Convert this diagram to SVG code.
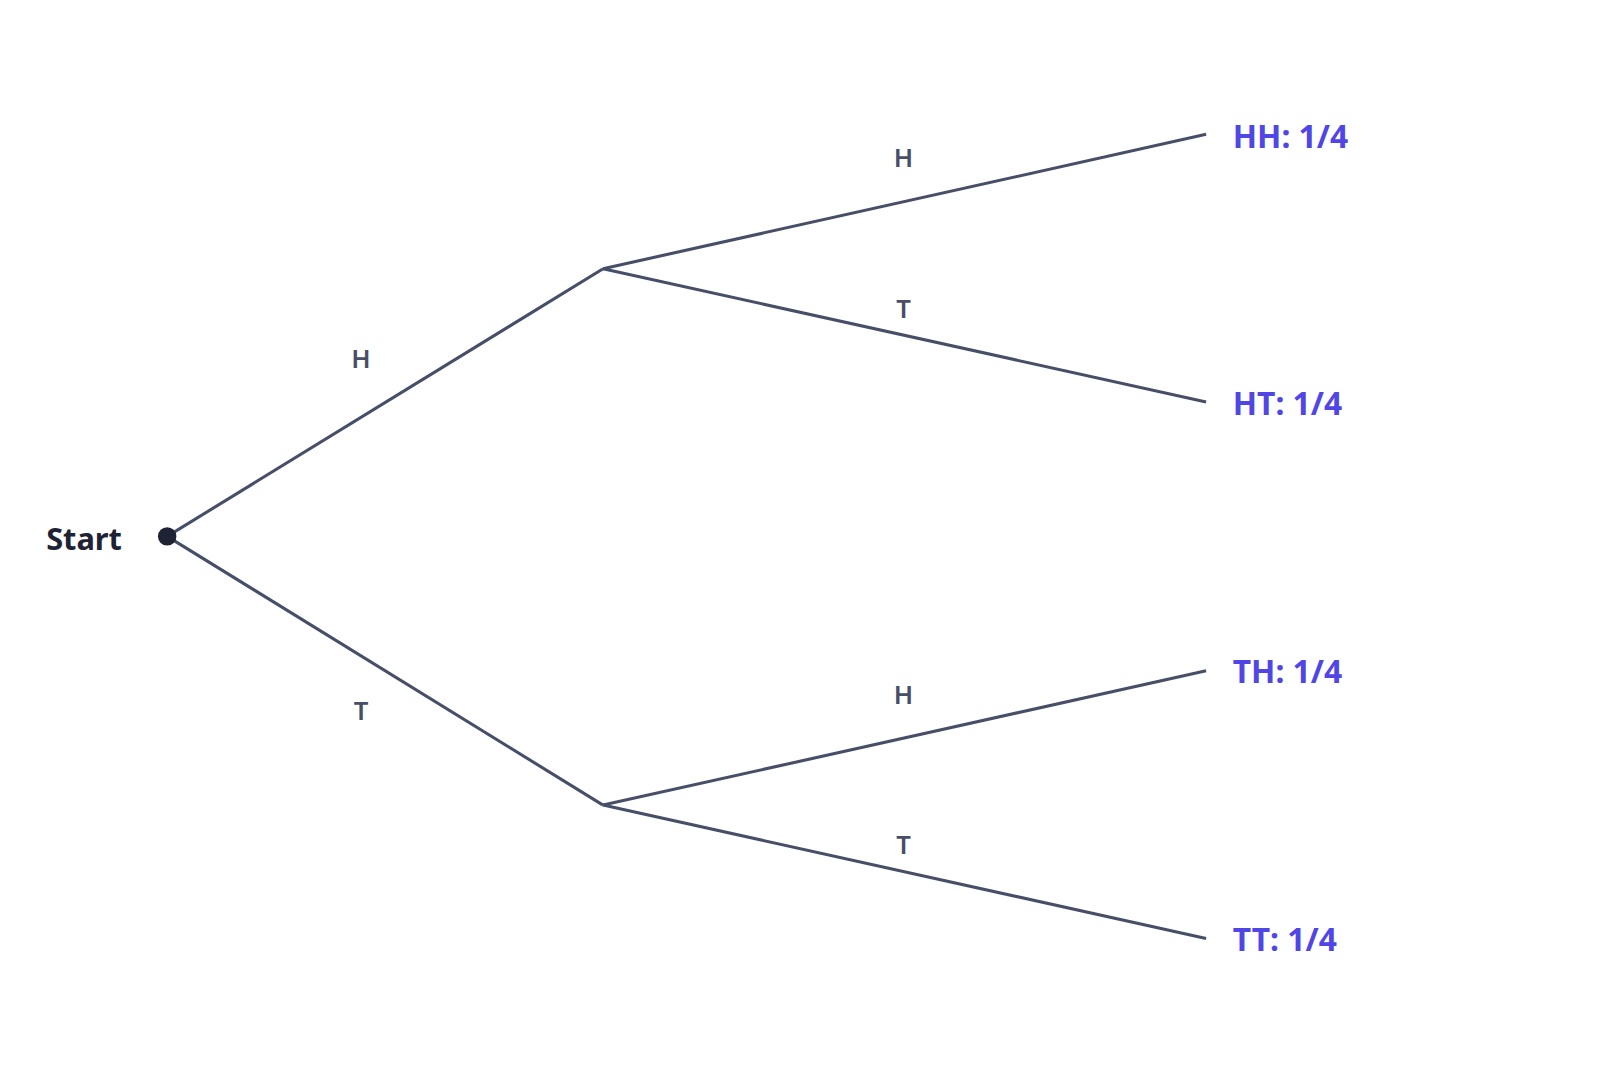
<svg xmlns="http://www.w3.org/2000/svg" width="1600" height="1067" viewBox="0 0 1600 1067">
<style>
.e{stroke:#474e68;stroke-width:3;fill:none}
.l{font-family:"Noto Sans",sans-serif;font-weight:600;font-size:25px;fill:#474e68;text-anchor:middle}
.o{font-family:"Noto Sans",sans-serif;font-weight:700;font-size:31px;fill:#4f46e5}
</style>
<rect width="1600" height="1067" fill="#fff"/>
<g transform="scale(1.0256)">
<g id="connectors">
<line class="e" x1="163" y1="523" x2="588" y2="262"/>
<line class="e" x1="163" y1="523" x2="588" y2="785"/>
<line class="e" x1="588" y1="262" x2="1176" y2="131"/>
<line class="e" x1="588" y1="262" x2="1176" y2="392"/>
<line class="e" x1="588" y1="785" x2="1176" y2="654"/>
<line class="e" x1="588" y1="785" x2="1176" y2="915"/>
<text class="l" x="352" y="359">H</text>
<text class="l" x="352" y="702">T</text>
<text class="l" x="881" y="163">H</text>
<text class="l" x="881" y="310">T</text>
<text class="l" x="881" y="686">H</text>
<text class="l" x="881" y="833">T</text>
</g>
<g id="start">
<circle cx="163" cy="523" r="9" fill="#1e2235"/>
<text x="45" y="536" font-family="Noto Sans,sans-serif" font-weight="700" font-size="30" fill="#1e2235">Start</text>
</g>
<g id="hh"><text class="o" x="1202" y="144">HH: 1/4</text></g>
<g id="ht"><text class="o" x="1202" y="405">HT: 1/4</text></g>
<g id="th"><text class="o" x="1202" y="666">TH: 1/4</text></g>
<g id="tt"><text class="o" x="1202" y="927">TT: 1/4</text></g>
</g>
</svg>
